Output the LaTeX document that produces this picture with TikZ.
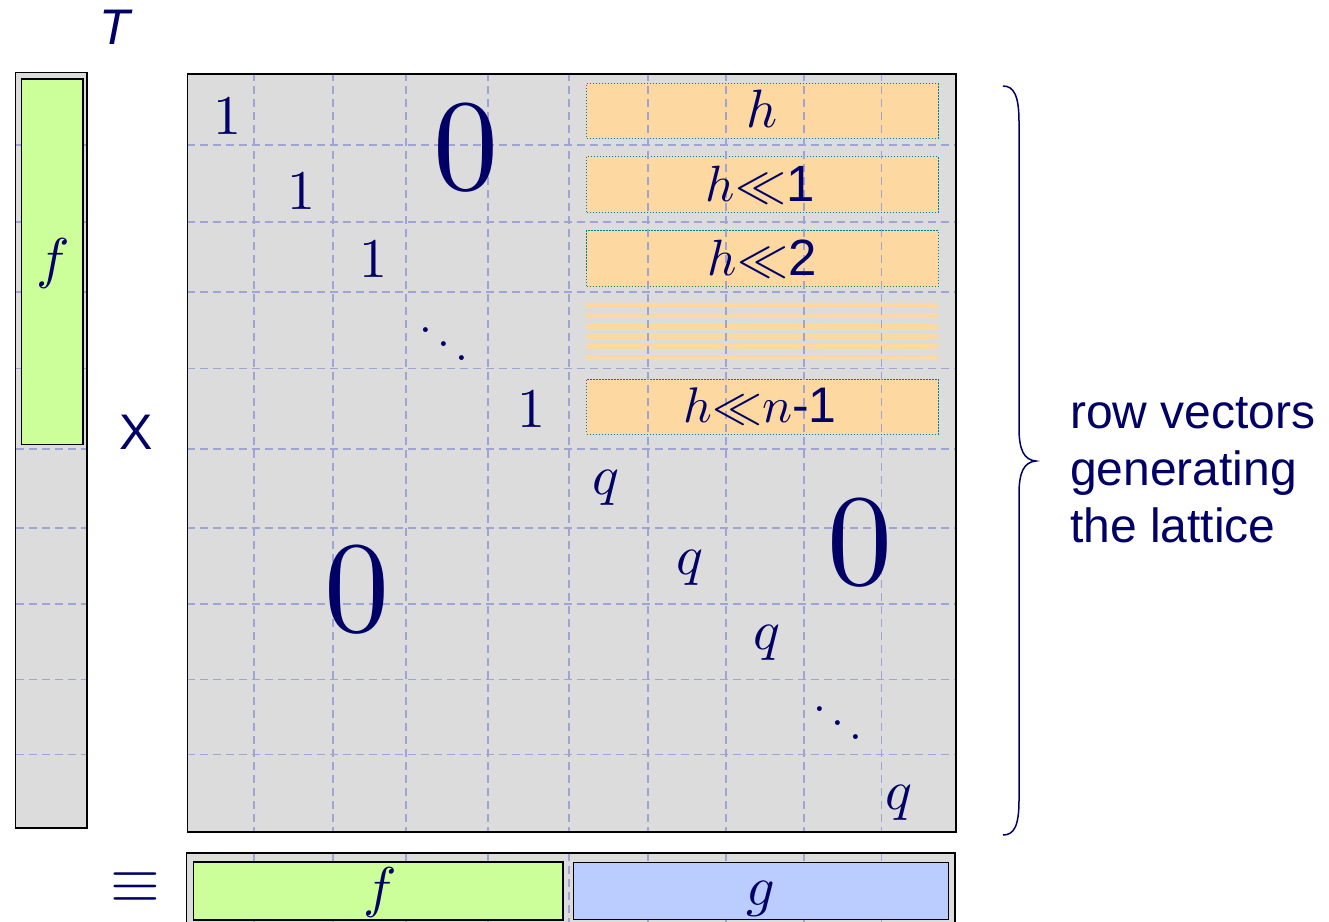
\documentclass[tikz,border=0pt]{standalone}
\usepackage{fontspec}
\setsansfont{Liberation Sans}
\definecolor{navy}{RGB}{0,0,102}
\definecolor{cellgray}{RGB}{220,220,220}
\definecolor{gridblue}{RGB}{160,164,212}
\definecolor{orangefill}{RGB}{253,216,160}
\definecolor{tealdot}{RGB}{0,128,128}
\definecolor{greenfill}{RGB}{204,255,153}
\definecolor{bluefill}{RGB}{187,204,255}
\newcommand{\mbig}[2]{\scalebox{#1}{#2}}
\tikzset{
  gridline/.style={gridblue, line width=1.4pt, dash pattern=on 8pt off 5pt},
  boxborder/.style={draw=black, line width=1.8pt},
  hbox/.style={fill=orangefill, draw=tealdot, line width=1pt, dash pattern=on 1.1pt off 1.9pt},
  stripe/.style={orangefill, line width=5pt},
  mathtxt/.style={text=navy, inner sep=0pt, font=\fontsize{10}{12}\selectfont},
  sftxt/.style={text=navy, inner sep=0pt, font=\fontsize{50}{55}\selectfont\sffamily},
  bracestyle/.style={navy, line width=1.5pt},
}
\begin{document}
\begin{tikzpicture}[x=1pt, y=-1pt]
\useasboundingbox (0,0) rectangle (1329,921);
\clip (0,0) rectangle (1329,921);

% ---------------- left vector ----------------
\fill[cellgray] (15.5,72.5) rectangle (87,828);
\foreach \yy in {145,222,292,368.5,449,528,604,679.5,754.5}
  \draw[gridline] (15.5,\yy) -- (87,\yy);
\draw[boxborder] (15.5,72.5) rectangle (87,828);
\node[draw=black, line width=1.5pt, fill=greenfill, minimum width=61.5pt, minimum height=365.5pt, inner sep=0pt, anchor=north west] (fvec) at (20.5,78) {};
\node[mathtxt] (fleft) at (53,263) {\mbig{5.6}{$f$}};

\node[sftxt, font=\fontsize{50}{55}\selectfont\sffamily\itshape] (Tlabel) at (115,27) {T};
\node[sftxt] (Xlabel) at (136.5,432) {X};
\node[mathtxt] (eqlabel) at (135.5,888) {\mbig{6.4}{$\equiv$}};

% ---------------- matrix ----------------
\fill[cellgray] (186.5,73) rectangle (955,831);

% orange row boxes
\node[hbox, minimum width=351.5pt, minimum height=54.5pt, inner sep=0pt, anchor=north west] (r0) at (586,83) {};
\node[hbox, minimum width=351.5pt, minimum height=55.5pt, inner sep=0pt, anchor=north west] (r1) at (586,156) {};
\node[hbox, minimum width=351.5pt, minimum height=56pt, inner sep=0pt, anchor=north west] (r2) at (586,230) {};
\node[hbox, minimum width=351.5pt, minimum height=55pt, inner sep=0pt, anchor=north west] (r3) at (586,378.5) {};
\foreach \yy in {305.7,315.9,326.2,336.5,346.8,357.4}
  \draw[stripe] (586,\yy) -- (937.5,\yy);

% grid
\foreach \xx in {254,333,406,488,569,648,726,804,881.5}
  \draw[gridline] (\xx,73) -- (\xx,831);
\foreach \yy in {145,222,292,368.5,449,528,604,679.5,754.5}
  \draw[gridline] (186.5,\yy) -- (955,\yy);
\node[boxborder, minimum width=768.5pt, minimum height=758pt, inner sep=0pt, anchor=north west] (M) at (186.5,73) {};

% labels in boxes
\node[mathtxt] (t0) at (762,109) {\mbig{5.4}{$h$}};
\node[mathtxt] (t1) at (760,185) {\mbig{5.1}{$h{\ll}$\textsf{1}}};
\node[mathtxt] (t2) at (762,259) {\mbig{5.1}{$h{\ll}$\textsf{2}}};
\node[mathtxt] (t3) at (760,406) {\mbig{5.0}{$h{\ll}n$\textsf{-1}}};

% diagonal entries
\node[mathtxt] (one1) at (227,116) {\mbig{5.6}{$1$}};
\node[mathtxt] (one2) at (301,191) {\mbig{5.6}{$1$}};
\node[mathtxt] (one3) at (373,259) {\mbig{5.6}{$1$}};
\node[mathtxt] (dd1) at (444,330) {\mbig{4.6}{$\ddots$}};
\node[mathtxt] (one4) at (531,409) {\mbig{5.6}{$1$}};
\node[mathtxt] (q1) at (606,488) {\mbig{5.6}{$q$}};
\node[mathtxt] (q2) at (690,568) {\mbig{5.6}{$q$}};
\node[mathtxt] (q3) at (767,643) {\mbig{5.6}{$q$}};
\node[mathtxt] (dd2) at (838,709) {\mbig{4.6}{$\ddots$}};
\node[mathtxt] (q4) at (899,803) {\mbig{5.6}{$q$}};

\node[mathtxt] (z1) at (466,148) {\mbig{13}{$0$}};
\node[mathtxt] (z2) at (357,590) {\mbig{13}{$0$}};
\node[mathtxt] (z3) at (860,543) {\mbig{13}{$0$}};

% ---------------- bottom result vector ----------------
\fill[cellgray] (186.5,853) rectangle (955,935);
\foreach \xx in {254,333,406,488,569,648,726,804,881.5}
  \draw[gridline] (\xx,853) -- (\xx,935);
\draw[boxborder] (186.5,853) rectangle (955,935);
\node[draw=black, line width=1.5pt, fill=greenfill, minimum width=369.5pt, minimum height=58pt, inner sep=0pt, anchor=north west] (fbox) at (192.5,861) {};
\node[draw=black, line width=1.5pt, fill=bluefill, minimum width=375pt, minimum height=57pt, inner sep=0pt, anchor=north west] (gbox) at (572.5,861.5) {};
\node[mathtxt] (fbot) at (380,892.5) {\mbig{5.6}{$f$}};
\node[mathtxt] (gbot) at (761,899) {\mbig{5.6}{$g$}};

% ---------------- brace and caption ----------------
\draw[bracestyle] (1003,86) .. controls (1014,86) and (1019,96) .. (1019,122)
  -- (1019,428) .. controls (1019,450) and (1024,460) .. (1036,461)
  .. controls (1024,462) and (1019,472) .. (1019,494)
  -- (1019,800) .. controls (1019,826) and (1014,835) .. (1003,835);
\node[anchor=west, align=left, text=navy, inner sep=0pt, font=\fontsize{48}{57}\selectfont\sffamily] (caption) at (1070,470) {row vectors\\generating\\the lattice};
\end{tikzpicture}
\end{document}
